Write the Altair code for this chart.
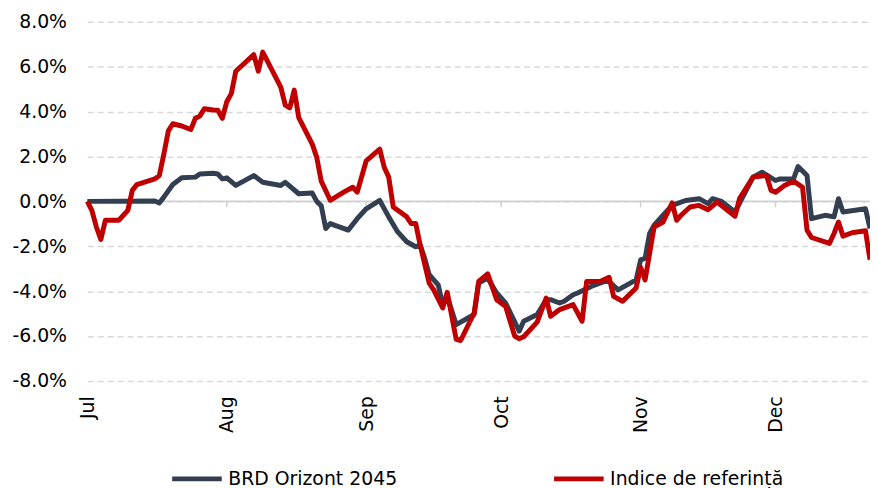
import altair as alt
import pandas as pd

fund_name = "BRD Orizont 2045"
index_name = "Indice de referință"

fund_dates = [
    "07-01", "07-16", "07-17", "07-18", "07-20", "07-22", "07-25", "07-26", "07-29", "07-30",
    "07-31", "08-01", "08-03", "08-07", "08-09", "08-13", "08-14", "08-17", "08-20", "08-21",
    "08-22", "08-23", "08-24", "08-28", "08-30", "09-01", "09-04", "09-06", "09-08", "09-10",
    "09-12", "09-13", "09-14", "09-15", "09-17", "09-18", "09-19", "09-21", "09-25", "09-26",
    "09-28", "09-30", "10-02", "10-05", "10-06", "10-09", "10-11", "10-12", "10-14", "10-15",
    "10-17", "10-18", "10-21", "10-24", "10-25", "10-27", "10-31", "11-01", "11-02", "11-03",
    "11-04", "11-06", "11-08", "11-11", "11-14", "11-16", "11-17", "11-19", "11-22", "11-26",
    "11-28", "12-01", "12-02", "12-05", "12-06", "12-08", "12-09", "12-12", "12-14", "12-15",
    "12-16", "12-21", "12-22",
]
fund_values = [
    0.00, 0.02, -0.07, 0.19, 0.75, 1.05, 1.08, 1.22, 1.25, 1.22,
    1.00, 1.05, 0.71, 1.15, 0.85, 0.71, 0.85, 0.34, 0.37, 0.00,
    -0.20, -1.21, -0.99, -1.28, -0.77, -0.33, 0.04, -0.69, -1.36, -1.80,
    -2.02, -1.95, -2.54, -3.27, -3.72, -4.60, -4.23, -5.49, -5.04, -3.64,
    -3.42, -4.08, -4.53, -5.78, -5.34, -5.04, -4.38, -4.38, -4.53, -4.45,
    -4.16, -4.08, -3.79, -3.57, -3.57, -3.94, -3.50, -2.61, -2.54, -1.43,
    -1.06, -0.62, -0.18, 0.04, 0.12, -0.10, 0.12, 0.00, -0.47, 1.08,
    1.30, 0.93, 1.00, 1.00, 1.55, 1.15, -0.77, -0.62, -0.69, 0.12,
    -0.47, -0.33, -1.21,
]

index_dates = [
    "07-01", "07-02", "07-03", "07-04", "07-05", "07-08", "07-10", "07-11", "07-12", "07-16",
    "07-17", "07-18", "07-19", "07-20", "07-22", "07-24", "07-25", "07-26", "07-27", "07-29",
    "07-30", "07-31", "08-01", "08-02", "08-03", "08-07", "08-08", "08-09", "08-11", "08-13",
    "08-14", "08-15", "08-16", "08-17", "08-20", "08-21", "08-22", "08-24", "08-27", "08-29",
    "08-30", "09-01", "09-04", "09-05", "09-06", "09-07", "09-10", "09-11", "09-12", "09-13",
    "09-15", "09-16", "09-18", "09-19", "09-21", "09-22", "09-25", "09-26", "09-28", "09-30",
    "10-02", "10-04", "10-05", "10-06", "10-09", "10-11", "10-12", "10-14", "10-17", "10-19",
    "10-20", "10-23", "10-25", "10-26", "10-28", "10-31", "11-01", "11-02", "11-04", "11-06",
    "11-08", "11-09", "11-10", "11-12", "11-14", "11-16", "11-18", "11-22", "11-23", "11-26",
    "11-29", "11-30", "12-01", "12-03", "12-05", "12-07", "12-08", "12-09", "12-13", "12-14",
    "12-15", "12-16", "12-18", "12-21", "12-22",
]
index_values = [
    0.00, -0.40, -1.14, -1.70, -0.84, -0.84, -0.40, 0.49, 0.75, 1.00,
    1.15, 2.10, 3.14, 3.46, 3.36, 3.20, 3.70, 3.80, 4.13, 4.07,
    4.06, 3.70, 4.44, 4.80, 5.80, 6.54, 5.80, 6.65, 5.87, 5.09,
    4.29, 4.17, 4.96, 3.73, 2.55, 1.96, 0.90, 0.05, 0.41, 0.63,
    0.41, 1.81, 2.33, 1.52, 1.08, -0.25, -0.69, -0.99, -0.99, -1.95,
    -3.64, -3.94, -4.75, -4.05, -6.15, -6.20, -4.97, -3.57, -3.23, -4.38,
    -4.68, -6.00, -6.12, -6.03, -5.38, -4.31, -5.12, -4.82, -4.60, -5.34,
    -3.57, -3.57, -3.38, -4.23, -4.45, -3.86, -2.94, -3.50, -1.14, -0.92,
    -0.07, -0.84, -0.62, -0.25, -0.18, -0.37, -0.03, -0.66, 0.12, 1.08,
    1.15, 0.49, 0.41, 0.71, 0.90, 0.63, -1.28, -1.61, -1.87, -1.43,
    -0.92, -1.55, -1.40, -1.31, -2.60,
]

year = 2023
tick_months = [7, 8, 9, 10, 11, 12]
y_ticks = [-8, -6, -4, -2, 0, 2, 4, 6, 8]
zero_level = [0]

rows = []
for d, v in zip(fund_dates, fund_values):
    rows.append({"date": f"{year}-{d}T00:00:00", "value": v, "series": fund_name})
for d, v in zip(index_dates, index_values):
    rows.append({"date": f"{year}-{d}T00:00:00", "value": v, "series": index_name})
df = pd.DataFrame(rows)

ticks_df = pd.DataFrame({"date": [f"{year}-{m:02d}-01T00:00:00" for m in tick_months]})
zero_df = pd.DataFrame({"value": zero_level})

FONT = "DejaVu Sans"

x_scale = alt.Scale(domain=[alt.DateTime(year=year, month=7, date=1),
                            alt.DateTime(year=year, month=12, date=22)])
y_scale = alt.Scale(domain=[-8, 8], nice=False, zero=False)

lines = alt.Chart(df).mark_line(strokeWidth=5, strokeJoin="round").encode(
    x=alt.X(
        "date:T",
        title=None,
        scale=x_scale,
        axis=alt.Axis(
            values=[alt.DateTime(year=year, month=m, date=1) for m in tick_months],
            format="%b",
            formatType="time",
            domain=False,
            ticks=False,
            labelAngle=270,
            labelAlign="right",
            labelBaseline="middle",
            labelPadding=15,
            labelFont=FONT,
            labelFontSize=19,
            labelColor="#000000",
            grid=False,
        ),
    ),
    y=alt.Y(
        "value:Q",
        title=None,
        scale=y_scale,
        axis=alt.Axis(
            values=y_ticks,
            labelExpr="(datum.value < 0 ? '-' : '') + format(abs(datum.value), '.1f') + '%'",
            domain=False,
            ticks=False,
            labelPadding=21,
            labelFont=FONT,
            labelFontSize=19,
            labelColor="#000000",
            grid=True,
            gridColor="#d9d9d9",
            gridDash=[6, 4],
            gridWidth=1.5,
        ),
    ),
    color=alt.Color(
        "series:N",
        scale=alt.Scale(domain=[fund_name, index_name], range=["#333f50", "#c00000"]),
        legend=alt.Legend(
            title=None,
            orient="none",
            direction="horizontal",
            legendX=83,
            legendY=433,
            symbolType="stroke",
            symbolSize=2500,
            symbolStrokeWidth=5,
            labelFont=FONT,
            labelFontSize=19,
            labelColor="#000000",
            labelOffset=4,
            labelLimit=0,
            columnPadding=147,
        ),
    ),
)

zero_line = alt.Chart(zero_df).mark_rule(color="#d0d0d0", strokeWidth=2).encode(
    y=alt.Y("value:Q", scale=y_scale),
)

month_ticks = alt.Chart(ticks_df).mark_rule(color="#d0d0d0", strokeWidth=1.5).encode(
    x=alt.X("date:T", scale=x_scale),
    y=alt.datum(0),
    y2=alt.value(187),
)

chart = alt.layer(zero_line, month_ticks, lines).properties(
    width=789,
    height=362,
    background="white",
    autosize=alt.AutoSizeParams(type="none"),
    padding={"left": 80, "top": 12, "right": 0, "bottom": 106},
).configure_view(strokeWidth=0)

chart.save("out.html", embed_options={"renderer": "svg", "actions": False})
